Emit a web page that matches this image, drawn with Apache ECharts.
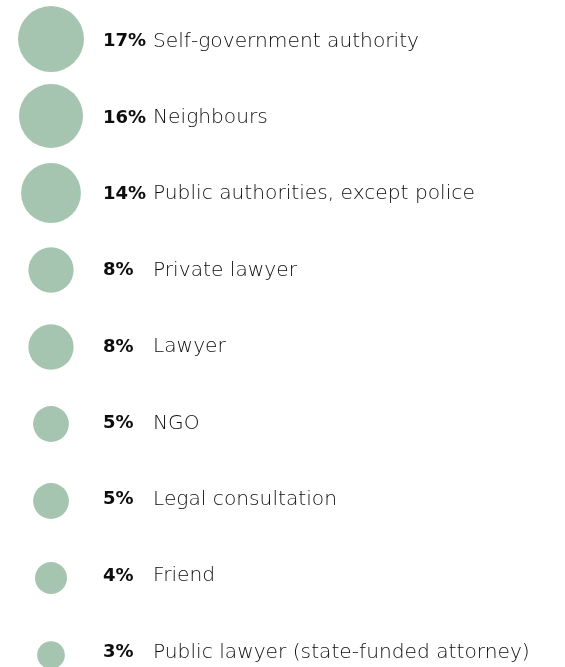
<!DOCTYPE html>
<html>
<head>
<meta charset="utf-8">
<script src="https://cdn.jsdelivr.net/npm/echarts@6/dist/echarts.min.js"></script>
<style>
  html, body { margin: 0; padding: 0; background: #ffffff; }
  #chart { width: 565px; height: 667px; }
</style>
</head>
<body>
<div id="chart"></div>
<script>
// Where people turned for help, share of respondents (%)
const categories = [
  'Self-government authority',
  'Neighbours',
  'Public authorities, except police',
  'Private lawyer',
  'Lawyer',
  'NGO',
  'Legal consultation',
  'Friend',
  'Public lawyer (state-funded attorney)'
];
const shares = [17, 16, 14, 8, 8, 5, 5, 4, 3];

const FONT = '"DejaVu Sans", "Noto Sans", sans-serif';
const bubbleColor = '#a5c5b0';

const chart = echarts.init(document.getElementById('chart'), null, { renderer: 'canvas' });

chart.setOption({
  animation: false,
  backgroundColor: '#ffffff',
  grid: [
    // bubble column
    { left: 51, width: 10, top: 39, height: 616, containLabel: false },
    // text column
    { left: 103, width: 440, top: 41.5, height: 611, containLabel: false }
  ],
  xAxis: [
    { gridIndex: 0, type: 'value', min: 0, max: 1, show: false },
    { gridIndex: 1, type: 'value', min: 0, max: 1, show: false }
  ],
  yAxis: [
    {
      gridIndex: 0, type: 'category', data: categories, inverse: true,
      boundaryGap: false, show: false
    },
    {
      gridIndex: 1, type: 'category', data: categories, inverse: true,
      boundaryGap: false,
      axisLine: { show: false }, axisTick: { show: false }, splitLine: { show: false },
      axisLabel: {
        inside: true,
        margin: 0,
        interval: 0,
        formatter: (name, idx) => '{p|' + shares[idx] + '%}{n|' + name + '}',
        rich: {
          p: { fontFamily: FONT, fontWeight: 'bold', fontSize: 18, color: '#0d0d0d', width: 50 },
          n: { fontFamily: FONT, fontWeight: 200, fontSize: 20.2, color: '#0d0d0d' }
        }
      }
    }
  ],
  series: [
    {
      type: 'scatter',
      xAxisIndex: 0, yAxisIndex: 0,
      data: categories.map((c, i) => [0, c, shares[i]]),
      symbol: 'circle',
      // bubble area proportional to the share
      symbolSize: d => 16 * Math.sqrt(d[2]),
      itemStyle: { color: bubbleColor, opacity: 1 },
      silent: true
    }
  ]
});
</script>
</body>
</html>
